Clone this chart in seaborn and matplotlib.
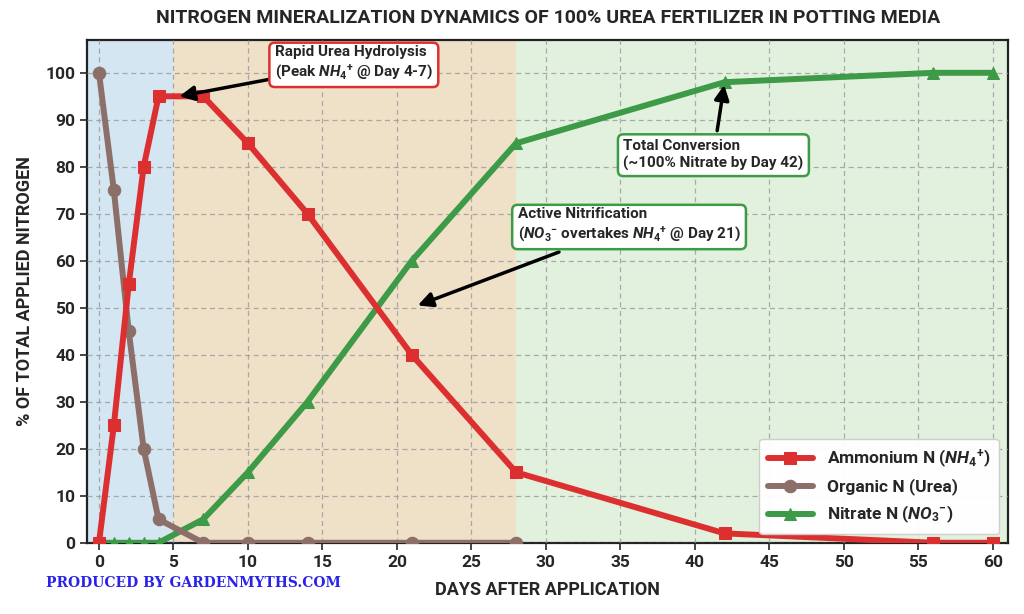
import matplotlib
matplotlib.use("Agg")
import matplotlib.pyplot as plt
import seaborn as sns
import pandas as pd
from matplotlib import font_manager

sns.set_style("white")
fams = [f.name for f in font_manager.fontManager.ttflist]
main_font = "Liberation Sans Narrow" if "Liberation Sans Narrow" in fams else "Roboto"
plt.rcParams['font.family'] = [main_font, 'DejaVu Sans']
plt.rcParams['mathtext.fontset'] = 'custom'
plt.rcParams['mathtext.rm'] = main_font + ':bold'
plt.rcParams['mathtext.it'] = main_font + ':bold:italic'
plt.rcParams['mathtext.bf'] = main_font + ':bold'

# Data
organic_days = [0, 1, 2, 3, 4, 7, 10, 14, 21, 28]
organic_vals = [100, 75, 45, 20, 5, 0, 0, 0, 0, 0]
days = [0, 1, 2, 3, 4, 7, 10, 14, 21, 28, 42, 56, 60]
ammonium_vals = [0, 25, 55, 80, 95, 95, 85, 70, 40, 15, 2, 0, 0]
nitrate_vals = [0, 0, 0, 0, 0, 5, 15, 30, 60, 85, 98, 100, 100]

xticks = list(range(0, 61, 5))
yticks = list(range(0, 101, 10))

RED = "#dc3030"
BROWN = "#8c6f68"
GREEN = "#3d9a47"

fig = plt.figure(figsize=(10.24, 6.14), dpi=100)
ax = fig.add_axes([0.085, 0.116, 0.899, 0.819])

ax.axvspan(-0.8, 5, color="#d3e6f2", zorder=0, lw=0)
ax.axvspan(5, 28, color="#efe0c8", zorder=0, lw=0)
ax.axvspan(28, 61, color="#e2f1dd", zorder=0, lw=0)

df_o = pd.DataFrame({"day": organic_days, "val": organic_vals})
df_a = pd.DataFrame({"day": days, "val": ammonium_vals})
df_n = pd.DataFrame({"day": days, "val": nitrate_vals})

sns.lineplot(data=df_n, x="day", y="val", ax=ax, color=GREEN, marker="^", markersize=9,
             markeredgecolor=GREEN, linewidth=4.3, label="Nitrate N ($\\mathit{NO_3}^{-}$)", zorder=3)
sns.lineplot(data=df_o, x="day", y="val", ax=ax, color=BROWN, marker="o", markersize=9,
             markeredgecolor=BROWN, linewidth=4.3, label="Organic N (Urea)", zorder=4)
sns.lineplot(data=df_a, x="day", y="val", ax=ax, color=RED, marker="s", markersize=9,
             markeredgecolor=RED, linewidth=4.3, label="Ammonium N ($\\mathit{NH_4}^{+}$)", zorder=5)

ax.set_xlim(-0.8, 61)
ax.set_ylim(0, 107)
ax.set_xticks(xticks)
ax.set_yticks(yticks)
ax.tick_params(axis="both", labelsize=12.5, length=5, width=1.2, direction="out", bottom=True, left=True)
for lbl in ax.get_xticklabels() + ax.get_yticklabels():
    lbl.set_fontweight("bold")
ax.grid(True, linestyle=(0, (4, 3)), color="#999999", linewidth=0.9, alpha=0.8)
ax.set_axisbelow(False)
for s in ax.spines.values():
    s.set_color("#222222")
    s.set_linewidth(1.6)

ax.set_xlabel("DAYS AFTER APPLICATION", fontsize=13, fontweight="bold", labelpad=8)
ax.set_ylabel("% OF TOTAL APPLIED NITROGEN", fontsize=13, fontweight="bold", labelpad=8)
fig.suptitle("NITROGEN MINERALIZATION DYNAMICS OF 100% UREA FERTILIZER IN POTTING MEDIA",
             x=0.535, y=0.985, fontsize=14, fontweight="bold")

handles, labels = ax.get_legend_handles_labels()
order = [2, 1, 0]
leg = ax.legend([handles[i] for i in order], [labels[i] for i in order], loc="lower right",
                prop={"weight": "bold", "size": 12.5}, frameon=True, fancybox=True,
                framealpha=0.95, edgecolor="#cccccc", handlelength=2.6, borderpad=0.5,
                labelspacing=0.5)
leg.set_zorder(10)

# Annotations
ax.annotate("Rapid Urea Hydrolysis\n(Peak $\\mathit{NH_4}^{+}$ @ Day 4-7)",
            xy=(5.4, 95), xytext=(11.8, 102), fontsize=11, fontweight="bold",
            ha="left", va="center", zorder=12,
            bbox=dict(boxstyle="round,pad=0.35", fc="white", ec=RED, lw=1.8),
            arrowprops=dict(arrowstyle="-|>,head_length=0.8,head_width=0.4", color="black", lw=2.5,
                            shrinkA=0, shrinkB=0))
ax.annotate("Total Conversion\n(~100% Nitrate by Day 42)",
            xy=(42, 98), xytext=(35.2, 82.5), fontsize=11, fontweight="bold",
            ha="left", va="center", zorder=12,
            bbox=dict(boxstyle="round,pad=0.35", fc="white", ec=GREEN, lw=1.8),
            arrowprops=dict(arrowstyle="-|>,head_length=0.8,head_width=0.4", color="black", lw=2.5,
                            shrinkA=2, shrinkB=2))
ax.annotate("Active Nitrification\n($\\mathit{NO_3}^{-}$ overtakes $\\mathit{NH_4}^{+}$ @ Day 21)",
            xy=(21.4, 50.5), xytext=(28.1, 67.5), fontsize=11, fontweight="bold",
            ha="left", va="center", zorder=12,
            bbox=dict(boxstyle="round,pad=0.35", fc="white", ec=GREEN, lw=1.8),
            arrowprops=dict(arrowstyle="-|>,head_length=0.8,head_width=0.4", color="black", lw=2.5,
                            shrinkA=4, shrinkB=0))

fig.text(0.045, 0.05, "PRODUCED BY GARDENMYTHS.COM", color="#2a22e8", fontsize=10,
         fontweight="bold", family=["DejaVu Serif"], ha="left", va="center")

fig.savefig("out.png", dpi=100)
